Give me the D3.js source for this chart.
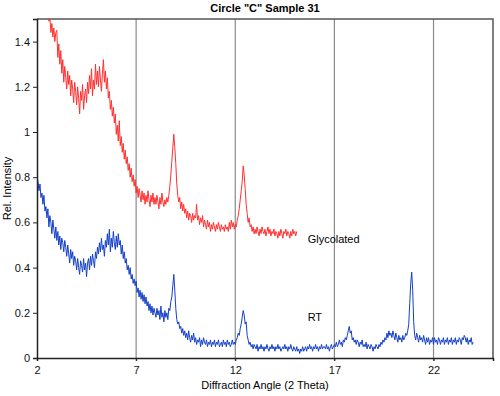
<!DOCTYPE html>
<html>
<head>
<meta charset="utf-8">
<script src="https://cdn.jsdelivr.net/npm/d3@7"></script>
<style>
    body { margin: 0; background: #fff; }
    text { font-family: Arial, "Liberation Sans", sans-serif; }
</style>
</head>
<body>
<div id="chart"></div>
<script>
// diffraction scans, sampled every 0.05 degree 2-theta (one row = 0.5 degree)
const step = 0.05;

const rtStart = 2.0;
const rtValues = [
    0.80, 0.78, 0.74, 0.77, 0.71, 0.73, 0.68, 0.72, 0.65, 0.67,
    0.62, 0.66, 0.58, 0.63, 0.60, 0.55, 0.61, 0.57, 0.53, 0.58,
    0.52, 0.56, 0.50, 0.54, 0.48, 0.53, 0.51, 0.47, 0.52, 0.49,
    0.45, 0.50, 0.46, 0.42, 0.48, 0.44, 0.47, 0.41, 0.45, 0.43,
    0.39, 0.44, 0.40, 0.37, 0.43, 0.41, 0.38, 0.44, 0.39, 0.42,
    0.36, 0.42, 0.44, 0.39, 0.45, 0.41, 0.46, 0.43, 0.40, 0.47,
    0.44, 0.49, 0.46, 0.51, 0.47, 0.53, 0.48, 0.50, 0.45, 0.52,
    0.49, 0.55, 0.50, 0.57, 0.47, 0.53, 0.49, 0.56, 0.51, 0.48,
    0.54, 0.49, 0.55, 0.50, 0.52, 0.46, 0.50, 0.44, 0.47, 0.42,
    0.44, 0.39, 0.41, 0.37, 0.40, 0.35, 0.37, 0.33, 0.35, 0.32,
    0.34, 0.29, 0.31, 0.27, 0.30, 0.26, 0.29, 0.25, 0.28, 0.24,
    0.27, 0.23, 0.25, 0.21, 0.24, 0.20, 0.23, 0.19, 0.22, 0.20,
    0.18, 0.22, 0.19, 0.21, 0.17, 0.23, 0.18, 0.20, 0.16, 0.21,
    0.18, 0.20, 0.17, 0.22, 0.21, 0.25, 0.27, 0.32, 0.37, 0.30,
    0.22, 0.17, 0.15, 0.16, 0.13, 0.14, 0.11, 0.13, 0.10, 0.12,
    0.09, 0.11, 0.08, 0.12, 0.09, 0.07, 0.10, 0.08, 0.11, 0.07,
    0.09, 0.06, 0.08, 0.07, 0.09, 0.05, 0.08, 0.06, 0.09, 0.07,
    0.06, 0.08, 0.05, 0.07, 0.06, 0.08, 0.05, 0.07, 0.06, 0.08,
    0.05, 0.07, 0.06, 0.08, 0.05, 0.06, 0.07, 0.05, 0.08, 0.06,
    0.07, 0.05, 0.08, 0.06, 0.07, 0.05, 0.06, 0.08, 0.06, 0.07,
    0.06, 0.08, 0.09, 0.11, 0.10, 0.13, 0.15, 0.18, 0.21, 0.19,
    0.15, 0.16, 0.10, 0.08, 0.06, 0.07, 0.05, 0.06, 0.04, 0.06,
    0.05, 0.04, 0.06, 0.03, 0.05, 0.04, 0.06, 0.04, 0.05, 0.03,
    0.05, 0.04, 0.06, 0.04, 0.03, 0.05, 0.04, 0.06, 0.04, 0.05,
    0.03, 0.05, 0.04, 0.06, 0.04, 0.05, 0.03, 0.04, 0.05, 0.04,
    0.06, 0.04, 0.05, 0.03, 0.05, 0.04, 0.06, 0.04, 0.03, 0.05,
    0.04, 0.03, 0.05, 0.03, 0.04, 0.02, 0.04, 0.03, 0.05, 0.03,
    0.04, 0.05, 0.03, 0.05, 0.04, 0.06, 0.04, 0.05, 0.03, 0.05,
    0.04, 0.06, 0.04, 0.05, 0.03, 0.05, 0.04, 0.06, 0.04, 0.05,
    0.05, 0.04, 0.06, 0.04, 0.05, 0.03, 0.05, 0.06, 0.04, 0.05,
    0.06, 0.05, 0.07, 0.05, 0.06, 0.08, 0.06, 0.07, 0.05, 0.08,
    0.07, 0.09, 0.08, 0.10, 0.12, 0.14, 0.11, 0.12, 0.08, 0.09,
    0.07, 0.08, 0.06, 0.08, 0.07, 0.05, 0.07, 0.06, 0.08, 0.05,
    0.06, 0.05, 0.07, 0.04, 0.06, 0.05, 0.04, 0.06, 0.05, 0.03,
    0.05, 0.04, 0.06, 0.05, 0.04, 0.06, 0.05, 0.07, 0.06, 0.08,
    0.07, 0.09, 0.08, 0.11, 0.09, 0.12, 0.10, 0.11, 0.09, 0.12,
    0.10, 0.08, 0.11, 0.09, 0.07, 0.10, 0.08, 0.09, 0.07, 0.10,
    0.08, 0.09, 0.11, 0.10, 0.12, 0.15, 0.24, 0.33, 0.38, 0.30,
    0.16, 0.10, 0.08, 0.11, 0.09, 0.07, 0.10, 0.08, 0.09, 0.07,
    0.10, 0.08, 0.06, 0.09, 0.07, 0.09, 0.06, 0.08, 0.07, 0.09,
    0.06, 0.09, 0.07, 0.08, 0.06, 0.09, 0.08, 0.06, 0.08, 0.07,
    0.09, 0.06, 0.08, 0.07, 0.09, 0.06, 0.08, 0.07, 0.09, 0.06,
    0.08, 0.07, 0.09, 0.06, 0.08, 0.07, 0.09, 0.08, 0.06, 0.09,
    0.08, 0.10, 0.09, 0.07, 0.09, 0.06, 0.08, 0.07, 0.09, 0.06,
    0.07
];

const glyStart = 2.5;
const glyValues = [
    1.56, 1.52, 1.49, 1.51, 1.44, 1.48, 1.42, 1.46, 1.40, 1.44,
    1.45, 1.33, 1.39, 1.30, 1.36, 1.26, 1.32, 1.22, 1.29, 1.24,
    1.19, 1.27, 1.21, 1.25, 1.16, 1.23, 1.19, 1.13, 1.22, 1.18,
    1.12, 1.20, 1.15, 1.08, 1.18, 1.14, 1.21, 1.10, 1.16, 1.19,
    1.13, 1.22, 1.17, 1.25, 1.19, 1.28, 1.16, 1.23, 1.19, 1.30,
    1.21, 1.27, 1.20, 1.29, 1.23, 1.18, 1.26, 1.32, 1.22, 1.27,
    1.19, 1.24, 1.15, 1.18, 1.10, 1.14, 1.07, 1.11, 1.04, 1.08,
    0.99, 1.03, 0.96, 1.05, 0.94, 0.98, 0.91, 0.95, 0.88, 0.92,
    0.86, 0.89, 0.83, 0.86, 0.80, 0.84, 0.78, 0.81, 0.76, 0.79,
    0.73, 0.76, 0.71, 0.75, 0.72, 0.69, 0.74, 0.70, 0.73, 0.68,
    0.72, 0.69, 0.74, 0.70, 0.67, 0.72, 0.69, 0.73, 0.68, 0.71,
    0.68, 0.72, 0.69, 0.66, 0.71, 0.68, 0.73, 0.69, 0.67, 0.70,
    0.68, 0.71, 0.69, 0.72, 0.76, 0.81, 0.87, 0.93, 0.99, 0.93,
    0.86, 0.77, 0.72, 0.69, 0.71, 0.66, 0.69, 0.65, 0.68, 0.64,
    0.66, 0.62, 0.65, 0.61, 0.64, 0.63, 0.60, 0.64, 0.61, 0.63,
    0.62, 0.68, 0.61, 0.63, 0.59, 0.62, 0.60, 0.63, 0.58, 0.61,
    0.59, 0.57, 0.61, 0.58, 0.60, 0.56, 0.59, 0.57, 0.60, 0.58,
    0.56, 0.59, 0.57, 0.60, 0.58, 0.56, 0.59, 0.57, 0.58, 0.56,
    0.59, 0.57, 0.58, 0.56, 0.60, 0.57, 0.61, 0.58, 0.60, 0.57,
    0.59, 0.58, 0.61, 0.63, 0.66, 0.70, 0.74, 0.78, 0.85, 0.81,
    0.75, 0.68, 0.64, 0.60, 0.62, 0.58, 0.59, 0.56, 0.58, 0.55,
    0.57, 0.55, 0.58, 0.56, 0.54, 0.57, 0.55, 0.58, 0.56, 0.55,
    0.57, 0.54, 0.56, 0.58, 0.55, 0.57, 0.54, 0.56, 0.55, 0.57,
    0.54, 0.56, 0.55, 0.53, 0.56, 0.54, 0.57, 0.55, 0.53, 0.56,
    0.55, 0.57, 0.54, 0.56, 0.55, 0.53, 0.56, 0.54, 0.57, 0.55,
    0.56, 0.54, 0.56
];

const xTicks = [2, 7, 12, 17, 22];
const yTicks = [0, 0.2, 0.4, 0.6, 0.8, 1, 1.2, 1.4];

const margin = {top: 19, right: 7, bottom: 38, left: 37};
const width = 500 - margin.left - margin.right;
const height = 396 - margin.top - margin.bottom;

const svg = d3.select("#chart").append("svg")
    .attr("width", 500)
    .attr("height", 396)
    .append("g")
    .attr("transform", "translate(" + margin.left + "," + margin.top + ")");

let x = d3.scaleLinear().domain([2, 25]).range([0, width]);
let y = d3.scaleLinear().domain([0, 1.5]).range([height, 0]);

// vertical grid lines
svg.selectAll(".grid")
    .data(xTicks.slice(1))
    .enter().append("line")
    .attr("class", "grid")
    .attr("x1", d => x(d)).attr("x2", d => x(d))
    .attr("y1", 0).attr("y2", height + 3)
    .style("stroke", "#8a8a8a")
    .style("stroke-width", 1.2);

// frame: top and right
svg.append("path")
    .attr("d", "M0,0H" + width + "V" + height)
    .style("fill", "none")
    .style("stroke", "#555")
    .style("stroke-width", 1.5);

svg.append("clipPath").attr("id", "clip")
    .append("rect").attr("width", width).attr("height", height);

function toPoints(start, values) {
    return values.map((v, i) => ({angle: start + i * step, value: v}));
}

let line = d3.line()
    .x(d => x(d.angle))
    .y(d => y(d.value));

svg.append("path")
    .datum(toPoints(glyStart, glyValues))
    .attr("clip-path", "url(#clip)")
    .attr("d", line)
    .style("fill", "none")
    .style("stroke", "#ff3030")
    .style("stroke-width", 1);

svg.append("path")
    .datum(toPoints(rtStart, rtValues))
    .attr("clip-path", "url(#clip)")
    .attr("d", line)
    .style("fill", "none")
    .style("stroke", "#1440c8")
    .style("stroke-width", 1);

// axes
let xAxis = svg.append("g")
    .attr("transform", "translate(0," + height + ")")
    .call(d3.axisBottom(x).tickValues(xTicks).tickSize(3).tickFormat(d3.format("d")));
let yAxis = svg.append("g")
    .call(d3.axisLeft(y).tickValues(yTicks).tickSize(4).tickFormat(d => d === 1 || d === 0 ? d : d.toFixed(1)));

[xAxis, yAxis].forEach(a => {
    a.select(".domain").style("stroke", "#222").style("stroke-width", 1.5);
    a.selectAll(".tick line").style("stroke", "#222");
    a.selectAll("text").style("font-size", "11px").style("fill", "#111");
});
xAxis.selectAll("text").attr("dy", "0.95em");

// labels
svg.append("text")
    .attr("x", width / 2).attr("y", -7)
    .attr("text-anchor", "middle")
    .style("font-size", "11px").style("font-weight", "bold")
    .text('Circle "C" Sample 31');

svg.append("text")
    .attr("x", width / 2).attr("y", height + 31)
    .attr("text-anchor", "middle")
    .style("font-size", "11px")
    .text("Diffraction Angle (2 Theta)");

svg.append("text")
    .attr("transform", "translate(-26," + (height / 2) + ") rotate(-90)")
    .attr("text-anchor", "middle")
    .style("font-size", "11px")
    .text("Rel. Intensity");

svg.append("text")
    .attr("x", x(15.65)).attr("y", y(0.508))
    .style("font-size", "11px")
    .text("Glycolated");

svg.append("text")
    .attr("x", x(15.65)).attr("y", y(0.162))
    .style("font-size", "11px")
    .text("RT");
</script>
</body>
</html>
